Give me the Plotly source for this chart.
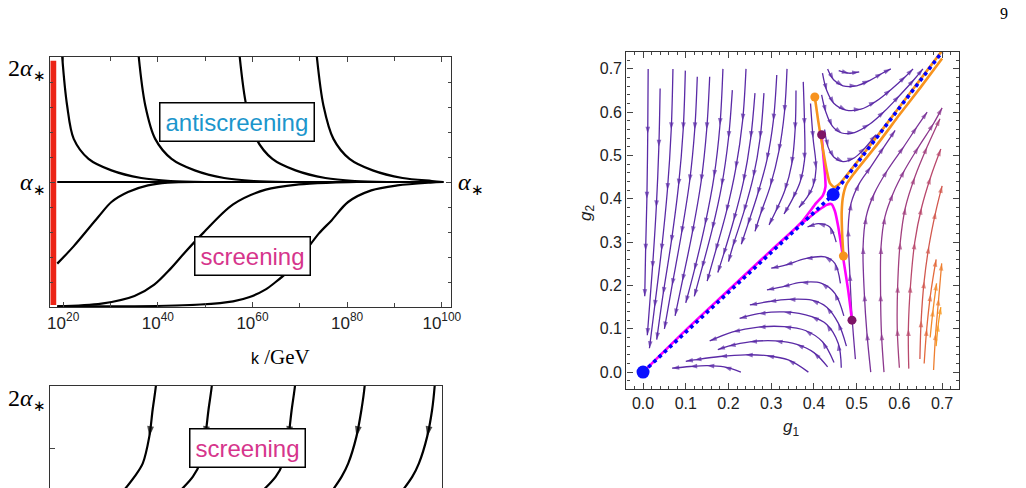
import plotly.graph_objects as go

W, H = 1026, 488

# ---------------- top-left panel : alpha(k) ----------------
K_TICKS = [20, 40, 60, 80, 100]
K_TICK_TEXT = ["10<sup>20</sup>", "10<sup>40</sup>", "10<sup>60</sup>", "10<sup>80</sup>", "10<sup>100</sup>"]
K_MINOR = [30, 50, 70, 90]

ANTI_A = [2.2, 2.0, 1.61, 1.345, 1.185, 1.093, 1.032, 1.008, 1.0]
ANTI1_T = [19.5, 19.8, 20.84, 22.23, 25.36, 30.2, 36.5, 42.7, 50.0]
ANTI2_T = [35.6, 35.97, 37.36, 39.44, 42.9, 47.8, 54.0, 60.3, 67.2]
ANTI3_T = [56.9, 57.3, 58.7, 60.8, 64.2, 69.1, 75.4, 81.6, 88.5]
ANTI4_T = [73.2, 73.6, 75.0, 77.1, 80.5, 85.4, 91.7, 97.9, 100.3]

SCR1_T = [18.75, 22.2, 27.4, 30.2, 33.7, 37.9, 42.1, 48.0]
SCR1_A = [0.347, 0.485, 0.72, 0.84, 0.92, 0.973, 0.995, 1.0]
SCR2_T = [18.75, 28.1, 35.07, 39.24, 42.7, 45.8, 49.65, 55.9, 62.8, 69.8, 76.7, 82.0]
SCR2_A = [0.005, 0.027, 0.088, 0.179, 0.307, 0.44, 0.595, 0.821, 0.939, 0.981, 0.995, 1.0]
SCR3_T = [18.75, 35.1, 49.0, 55.9, 59.4, 62.8, 64.9, 67.0, 69.8, 74.0, 76.7, 80.2, 85.1, 90.6, 97.6, 100.35]
SCR3_A = [0.005, 0.006, 0.02, 0.045, 0.08, 0.141, 0.2, 0.267, 0.38, 0.587, 0.693, 0.84, 0.933, 0.973, 0.995, 1.0]

FIXED_T = [18.75, 100.35]
FIXED_A = [1.0, 1.0]
RED_T = [17.9, 17.9]
RED_A = [0.016, 1.97]

# ---------------- bottom-left panel (cut off) ----------------
BOT_A = [2.08, 2.0, 1.808, 1.595, 1.381, 1.275, 1.15]
BOT1_T = [39.7, 39.58, 38.89, 38.19, 36.81, 35.07, 32.5]
BOT2_T = [51.5, 51.39, 50.69, 50.0, 48.9, 47.4, 44.4]
BOT3_T = [69.1, 68.96, 68.26, 67.57, 66.4, 64.9, 61.8]
BOT4_T = [83.8, 83.68, 82.99, 81.94, 80.21, 78.82, 76.6]
BOT5_T = [98.6, 98.47, 97.92, 96.88, 95.14, 93.75, 91.4]

# ---------------- right panel : stream plot (g1, g2) ----------------
G_TICKS = [0.0, 0.1, 0.2, 0.3, 0.4, 0.5, 0.6, 0.7]

STREAM_LEFT = [
    [(0.012, 0.70), (0.011, 0.55), (0.009, 0.40), (0.006, 0.28), (0.004, 0.175)],
    [(0.040, 0.655), (0.037, 0.52), (0.031, 0.38), (0.022, 0.24), (0.010, 0.085)],
    [(0.070, 0.70), (0.066, 0.56), (0.057, 0.42), (0.043, 0.28), (0.027, 0.15), (0.015, 0.055)],
    [(0.099, 0.696), (0.094, 0.56), (0.083, 0.43), (0.066, 0.30), (0.047, 0.18), (0.032, 0.075)],
    [(0.127, 0.682), (0.121, 0.56), (0.109, 0.44), (0.090, 0.32), (0.068, 0.20), (0.05, 0.10)],
    [(0.156, 0.682), (0.149, 0.56), (0.136, 0.44), (0.115, 0.32), (0.092, 0.21), (0.075, 0.13)],
    [(0.187, 0.70), (0.180, 0.57), (0.166, 0.45), (0.145, 0.34), (0.12, 0.235), (0.10, 0.16)],
    [(0.209, 0.651), (0.200, 0.54), (0.184, 0.43), (0.162, 0.33), (0.138, 0.24), (0.12, 0.175)],
    [(0.241, 0.70), (0.233, 0.58), (0.217, 0.47), (0.195, 0.37), (0.17, 0.28), (0.15, 0.21)],
    [(0.262, 0.644), (0.252, 0.54), (0.235, 0.44), (0.212, 0.35), (0.188, 0.27), (0.175, 0.23)],
    [(0.283, 0.644), (0.274, 0.54), (0.258, 0.45), (0.236, 0.37), (0.21, 0.29), (0.20, 0.255)],
    [(0.313, 0.686), (0.305, 0.58), (0.29, 0.49), (0.268, 0.41), (0.245, 0.34), (0.23, 0.295)],
    [(0.337, 0.70), (0.331, 0.60), (0.318, 0.51), (0.298, 0.43), (0.275, 0.365), (0.262, 0.325)],
    [(0.358, 0.65), (0.356, 0.56), (0.348, 0.48), (0.332, 0.42), (0.31, 0.37), (0.295, 0.34)],
    [(0.375, 0.67), (0.378, 0.57), (0.378, 0.49), (0.368, 0.44), (0.35, 0.40), (0.33, 0.365)],
    [(0.392, 0.62), (0.398, 0.54), (0.405, 0.47), (0.398, 0.43), (0.385, 0.405), (0.365, 0.38)],
]

STREAM_U = [
    [(0.458, 0.696), (0.482, 0.69), (0.506, 0.693)],
    [(0.432, 0.70), (0.446, 0.675), (0.468, 0.661), (0.50, 0.661), (0.53, 0.673), (0.56, 0.69), (0.58, 0.70)],
    [(0.42, 0.69), (0.43, 0.65), (0.447, 0.62), (0.475, 0.605), (0.51, 0.607), (0.545, 0.625),
     (0.58, 0.652), (0.615, 0.683), (0.632, 0.70)],
    [(0.418, 0.64), (0.428, 0.60), (0.443, 0.568), (0.465, 0.552), (0.495, 0.553), (0.53, 0.572),
     (0.565, 0.602), (0.60, 0.638), (0.635, 0.676), (0.655, 0.70)],
    [(0.425, 0.56), (0.433, 0.52), (0.447, 0.496), (0.468, 0.486), (0.495, 0.495), (0.52, 0.518), (0.545, 0.548)],
]

STREAM_BOTTOM = [
    [(0.229, 0.0), (0.19, 0.012), (0.15, 0.015), (0.11, 0.013), (0.068, 0.009)],
    [(0.387, 0.0), (0.34, 0.028), (0.29, 0.038), (0.24, 0.04), (0.18, 0.036), (0.12, 0.028), (0.10, 0.025)],
    [(0.432, 0.012), (0.40, 0.045), (0.36, 0.064), (0.31, 0.072), (0.25, 0.07), (0.20, 0.06), (0.175, 0.052)],
    [(0.447, 0.022), (0.42, 0.07), (0.38, 0.096), (0.33, 0.105), (0.27, 0.104), (0.21, 0.093), (0.156, 0.072)],
    [(0.464, 0.01), (0.457, 0.066), (0.43, 0.11), (0.395, 0.128), (0.33, 0.139), (0.27, 0.135), (0.226, 0.124)],
    [(0.476, 0.06), (0.457, 0.113), (0.43, 0.15), (0.395, 0.166), (0.34, 0.168), (0.295, 0.163), (0.25, 0.155)],
    [(0.47, 0.13), (0.449, 0.182), (0.418, 0.205), (0.37, 0.207), (0.326, 0.197), (0.29, 0.19)],
    [(0.462, 0.205), (0.449, 0.251), (0.426, 0.266), (0.38, 0.262), (0.333, 0.247), (0.30, 0.24)],
    [(0.452, 0.30), (0.437, 0.335), (0.41, 0.343), (0.385, 0.335)],
]

STREAM_RIGHT = [
    [(0.497, 0.03), (0.489, 0.13), (0.484, 0.227), (0.480, 0.33), (0.487, 0.39), (0.506, 0.435),
     (0.533, 0.474), (0.564, 0.52), (0.59, 0.558)],
    [(0.533, 0.0), (0.524, 0.09), (0.518, 0.18), (0.515, 0.289), (0.522, 0.358), (0.541, 0.412),
     (0.572, 0.466), (0.61, 0.52), (0.641, 0.566), (0.665, 0.60)],
    [(0.564, 0.0), (0.558, 0.09), (0.556, 0.18), (0.557, 0.289), (0.566, 0.358), (0.585, 0.412),
     (0.612, 0.466), (0.645, 0.52), (0.68, 0.574), (0.70, 0.61)],
    [(0.60, 0.01), (0.595, 0.10), (0.596, 0.20), (0.602, 0.30), (0.614, 0.38), (0.636, 0.45), (0.665, 0.52), (0.695, 0.585)],
    [(0.622, 0.008), (0.621, 0.10), (0.626, 0.20), (0.636, 0.30), (0.652, 0.38), (0.673, 0.45), (0.697, 0.515)],
    [(0.648, 0.03), (0.651, 0.12), (0.658, 0.21), (0.669, 0.29), (0.685, 0.37), (0.70, 0.43)],
    [(0.658, 0.02), (0.664, 0.10), (0.673, 0.18), (0.686, 0.26)],
    [(0.68, 0.005), (0.685, 0.09), (0.692, 0.17), (0.699, 0.251)],
    [(0.672, 0.08), (0.679, 0.145), (0.687, 0.205)],
    [(0.686, 0.06), (0.691, 0.11), (0.697, 0.15)],
]
STREAM_RIGHT_COLORS = ["#6a2ea2", "#7a3399", "#8c388e", "#a3407e", "#b9496c", "#d2584e", "#e46a3c",
                       "#ee7f30", "#f28a2a", "#f79a22"]

MAGENTA_1 = [(0.418, 0.548), (0.422, 0.50), (0.426, 0.455), (0.427, 0.428), (0.421, 0.408), (0.405, 0.39),
             (0.37, 0.345), (0.30, 0.281), (0.20, 0.189), (0.10, 0.097), (0.0, 0.0)]
MAGENTA_2 = [(0.489, 0.12), (0.48, 0.19), (0.468, 0.266), (0.457, 0.335), (0.449, 0.372), (0.441, 0.388),
             (0.43, 0.386), (0.41, 0.373), (0.37, 0.342)]
ORANGE_1 = [(0.402, 0.635), (0.41, 0.58), (0.42, 0.52), (0.43, 0.465), (0.437, 0.437), (0.447, 0.427),
            (0.46, 0.435), (0.50, 0.484), (0.55, 0.547), (0.60, 0.612), (0.65, 0.677), (0.70, 0.742)]
ORANGE_2 = [(0.469, 0.268), (0.466, 0.32), (0.465, 0.37), (0.468, 0.405), (0.476, 0.433), (0.495, 0.46),
            (0.55, 0.528), (0.60, 0.594), (0.65, 0.658), (0.70, 0.724)]
BLUE_SEP = [(0.0, 0.0), (0.445, 0.41), (0.70, 0.739)]
FIXED_POINTS = [(0.0, 0.0), (0.445, 0.41)]
PURPLE_DOTS = [(0.418, 0.548), (0.489, 0.12)]
ORANGE_DOTS = [(0.402, 0.635), (0.469, 0.268)]

STREAM_PURPLE = "#5a2aa6"

# ---------------------------------------------------------------
fig = go.Figure()


def px(v):
    return v / W


def py(v):
    return 1 - v / H


LINE_K = dict(color="black", width=2.2, shape="spline", smoothing=0.9)
for t in (ANTI1_T, ANTI2_T, ANTI3_T, ANTI4_T):
    fig.add_trace(go.Scatter(x=t, y=ANTI_A, mode="lines", line=LINE_K, xaxis="x", yaxis="y", hoverinfo="skip"))
for t, a in ((SCR1_T, SCR1_A), (SCR2_T, SCR2_A), (SCR3_T, SCR3_A), (FIXED_T, FIXED_A)):
    fig.add_trace(go.Scatter(x=t, y=a, mode="lines", line=LINE_K, xaxis="x", yaxis="y", hoverinfo="skip"))
fig.add_trace(go.Scatter(x=RED_T, y=RED_A, mode="lines", line=dict(color="#ec2416", width=6),
                         xaxis="x", yaxis="y", hoverinfo="skip"))

for t in (BOT1_T, BOT2_T, BOT3_T, BOT4_T, BOT5_T):
    sizes = [0] * len(t)
    sizes[3] = 11
    fig.add_trace(go.Scatter(x=t, y=BOT_A, mode="lines+markers", line=LINE_K,
                             marker=dict(symbol="arrow", size=sizes, color="black", angleref="previous", line=dict(width=0)),
                             xaxis="x3", yaxis="y3", hoverinfo="skip"))


def add_stream(pts, color, width=1.3, arrow=7.5):
    xs = [p[0] for p in pts]
    ys = [p[1] for p in pts]
    sizes = [0] + [arrow] * (len(pts) - 1)
    fig.add_trace(go.Scatter(x=xs, y=ys, mode="lines+markers",
                             line=dict(color=color, width=width, shape="spline", smoothing=1.0),
                             marker=dict(symbol="arrow", size=sizes, color=color, angleref="previous", line=dict(width=0)),
                             xaxis="x2", yaxis="y2", hoverinfo="skip"))


for s in STREAM_LEFT + STREAM_U + STREAM_BOTTOM:
    add_stream(s, STREAM_PURPLE)
for s, c in zip(STREAM_RIGHT, STREAM_RIGHT_COLORS):
    add_stream(s, c)


def add_path(pts, color, width, dash="solid", shape="spline"):
    fig.add_trace(go.Scatter(x=[p[0] for p in pts], y=[p[1] for p in pts], mode="lines",
                             line=dict(color=color, width=width, dash=dash, shape=shape, smoothing=0.6),
                             xaxis="x2", yaxis="y2", hoverinfo="skip"))


add_path(MAGENTA_1, "#ff00ff", 2.6)
add_path(MAGENTA_2, "#ff00ff", 2.6)
add_path(ORANGE_1, "#f7931e", 2.6)
add_path(ORANGE_2, "#f7931e", 2.6)
add_path(BLUE_SEP, "#0000ff", 3.6, dash="dot", shape="linear")


def add_dots(pts, color, size):
    fig.add_trace(go.Scatter(x=[p[0] for p in pts], y=[p[1] for p in pts], mode="markers",
                             marker=dict(color=color, size=size, line=dict(width=0)), cliponaxis=False,
                             xaxis="x2", yaxis="y2", hoverinfo="skip"))


add_dots(FIXED_POINTS, "#0a10ff", 13)
add_dots(PURPLE_DOTS, "#7d1466", 9)
add_dots(ORANGE_DOTS, "#f7931e", 9)

AX = dict(showgrid=False, zeroline=False, showline=True, linecolor="#333", linewidth=1.3,
          ticks="inside", tickcolor="#444", mirror="allticks")
SANS = "Liberation Sans, Arial, sans-serif"
SERIF = "Liberation Serif, Times New Roman, serif"

fig.update_layout(
    width=W, height=H, margin=dict(l=0, r=0, t=0, b=0),
    paper_bgcolor="white", plot_bgcolor="white", showlegend=False,
    xaxis=dict(AX, domain=[px(48), px(454)], range=[17.29, 101.9], anchor="y",
               tickvals=K_TICKS, ticktext=K_TICK_TEXT, ticklen=5,
               minor=dict(tickvals=K_MINOR, ticks="inside", ticklen=4, tickcolor="#444"),
               tickfont=dict(family=SANS, size=17, color="#222")),
    yaxis=dict(AX, domain=[py(307), py(57)], range=[0, 2.0], anchor="x",
               tickvals=[0, 1, 2], showticklabels=False, ticklen=5,
               minor=dict(dtick=0.2, tick0=0, ticks="inside", ticklen=3, tickcolor="#444")),
    xaxis2=dict(AX, domain=[px(632), px(969)], range=[-0.039, 0.739], anchor="y2",
                tickvals=G_TICKS, ticktext=["%.1f" % v for v in G_TICKS], ticklen=6,
                minor=dict(dtick=0.02, tick0=0, ticks="inside", ticklen=3, tickcolor="#444"),
                tickfont=dict(family=SANS, size=16, color="#222")),
    yaxis2=dict(AX, domain=[py(389), py(52)], range=[-0.039, 0.739], anchor="x2",
                tickvals=G_TICKS, ticktext=["%.1f" % v for v in G_TICKS], ticklen=6,
                minor=dict(dtick=0.02, tick0=0, ticks="inside", ticklen=3, tickcolor="#444"),
                tickfont=dict(family=SANS, size=16, color="#222")),
    xaxis3=dict(showgrid=False, zeroline=False, showline=True, linecolor="#333", linewidth=1.3,
                domain=[px(48), px(445)], range=[17.29, 100.0], anchor="y3", side="top",
                showticklabels=False, ticks=""),
    yaxis3=dict(showgrid=False, zeroline=False, showline=True, linecolor="#333", linewidth=1.3, mirror=True,
                domain=[0, py(386)], range=[1.184, 2.0], anchor="x3",
                tickvals=[1.5], ticks="inside", ticklen=5, tickcolor="#444", showticklabels=False),
)

STAR = "<sub><span style='font-size:15px'>∗</span></sub>"
ann = []
ann.append(dict(x=px(46), y=py(69), text="2<i>α</i>" + STAR, xanchor="right", yanchor="middle",
                font=dict(family=SERIF, size=24, color="black")))
ann.append(dict(x=px(46), y=py(183), text="<i>α</i>" + STAR, xanchor="right", yanchor="middle",
                font=dict(family=SERIF, size=24, color="black")))
ann.append(dict(x=px(459), y=py(183), text="<i>α</i>" + STAR, xanchor="left", yanchor="middle",
                font=dict(family=SERIF, size=24, color="black")))
ann.append(dict(x=px(46), y=py(399), text="2<i>α</i>" + STAR, xanchor="right", yanchor="middle",
                font=dict(family=SERIF, size=24, color="black")))
ann.append(dict(x=px(281), y=py(357), text="<span style='font-family:Liberation Sans;font-size:16px'>k</span> /GeV",
                xanchor="center", yanchor="middle", font=dict(family=SERIF, size=21, color="black")))
ann.append(dict(x=px(1015), y=py(14), text="9", xanchor="center", yanchor="middle",
                font=dict(family=SERIF, size=16, color="black")))
for cx, cy, txt, col in ((237.5, 121.5, "antiscreening", "#1c96cc"), (252.5, 255.5, "screening", "#d6358c"),
                         (247.5, 447.5, "screening", "#d6358c")):
    ann.append(dict(x=px(cx), y=py(cy), text=txt, xanchor="center", yanchor="middle",
                    font=dict(family=SANS, size=24, color=col), bgcolor="white",
                    bordercolor="black", borderwidth=1.5, borderpad=5))
ann.append(dict(x=px(799), y=py(428), text="<i>g</i><sub>1</sub>", xanchor="center", yanchor="middle",
                font=dict(family=SANS, size=17, color="#222")))
ann.append(dict(x=px(592), y=py(213), text="<i>g</i><sub>2</sub>", xanchor="center", yanchor="middle",
                textangle=-90, font=dict(family=SANS, size=17, color="#222")))
for a in ann:
    a.update(xref="paper", yref="paper", showarrow=False)
fig.update_layout(annotations=ann)

fig.write_html("out.html")
